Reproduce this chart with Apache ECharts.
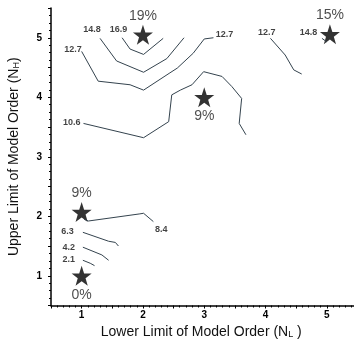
<!DOCTYPE html>
<html><head><meta charset="utf-8">
<script src="https://cdn.jsdelivr.net/npm/echarts@6/dist/echarts.min.js"></script>
<style>html,body{margin:0;padding:0;background:#fff}#c{width:354px;height:340px}</style>
</head><body><div id="c"></div>
<script>
// Contour lines [NL, NH]
const c106 = [[1.03,3.56],[2.01,3.32],[2.42,3.59],[2.47,4.04],[2.61,4.12],[2.80,4.21],[2.99,4.43],[3.29,4.35],[3.45,4.18],[3.61,3.98],[3.57,3.56],[3.68,3.37]];
const c127a = [[1.00,4.77],[1.27,4.27],[1.79,4.21],[2.01,4.12],[2.44,4.41],[2.56,4.49],[2.82,4.74],[3.00,4.98],[3.15,5.00]];
const c148a = [[1.30,4.99],[1.57,4.61],[2.01,4.42],[2.39,4.65],[2.67,5.00]];
const c169 = [[1.66,5.00],[1.79,4.81],[2.01,4.72],[2.33,4.99]];
const c127b = [[4.08,4.99],[4.32,4.71],[4.46,4.46],[4.59,4.39]];
const c148b = [[4.92,4.99],[5.00,4.93]];
const c84 = [[1.04,1.95],[1.11,1.92],[1.95,2.04],[2.01,2.05],[2.17,1.91]];
const c63 = [[1.02,1.73],[1.44,1.58],[1.55,1.56],[1.60,1.50]];
const c42 = [[1.02,1.48],[1.33,1.35],[1.44,1.26]];
const c21 = [[1.02,1.26],[1.14,1.21],[1.21,1.17]];
const contours = [c106, c127a, c148a, c169, c127b, c148b, c84, c63, c42, c21];
// Contour labels [x, y, text]
const contourLabels = [[0.86,4.81,'12.7'],[1.17,5.13,'14.8'],[1.60,5.13,'16.9'],[3.33,5.05,'12.7'],
  [4.02,5.09,'12.7'],[4.70,5.08,'14.8'],[0.84,3.57,'10.6'],[2.30,1.77,'8.4'],
  [0.77,1.74,'6.3'],[0.79,1.48,'4.2'],[0.79,1.28,'2.1']];
// Stars [NL, NH, percentage]
const stars = [[1,1,'0%'],[1,2.07,'9%'],[2,5.05,'19%'],[3,4,'9%'],[5.05,5.06,'15%']];
const xTicks = [1,2,3,4,5];
const yTicks = [1,2,3,4,5];

const starPath = 'path://M50,0 L61.8,35.1 L98.1,35.1 L68.8,56.7 L79.4,91 L50,70 L20.6,91 L31.2,56.7 L1.9,35.1 L38.2,35.1 Z';
const font = 'Liberation Sans, Arial, sans-serif';
const chart = echarts.init(document.getElementById('c'));
const series = contours.map(d => ({
  type: 'line', data: d, symbol: 'none', silent: true,
  lineStyle: {color: '#34434e', width: 1}
}));
series.push({
  type: 'scatter', symbolSize: 0, silent: true,
  data: contourLabels.map(r => ({value: [r[0], r[1]], name: r[2]})),
  label: {show: true, position: 'inside', formatter: p => p.name, color: '#111', fontSize: 9, fontWeight: 'bold', fontFamily: font}
});
series.push({
  type: 'scatter', symbol: starPath, symbolSize: 20, silent: true,
  itemStyle: {color: '#000'},
  data: stars.map((r, i) => ({value: [r[0], r[1]], name: r[2],
    label: {position: (i === 0 || i === 3) ? 'bottom' : 'top', distance: 2}})),
  label: {show: true, formatter: p => p.name, color: '#222', fontSize: 14, fontFamily: font}
});
const fmt = v => (xTicks.indexOf(v) >= 0 ? String(v) : '');
const fmtY = v => (yTicks.indexOf(v) >= 0 ? String(v) : '');
chart.setOption({
  animation: false,
  backgroundColor: '#fff',
  grid: {left: 51, right: -3.5, top: 8, bottom: 34.5, containLabel: false, outerBoundsMode: 'none'},
  xAxis: {
    type: 'value', min: 0.5, max: 5.5, interval: 0.5,
    name: 'Lower Limit of Model Order (N{s|L} )', nameLocation: 'middle', nameGap: 18,
    nameTextStyle: {fontSize: 14, color: '#111', fontFamily: font, padding: [0, 0, 0, -6],
      rich: {s: {fontSize: 9, verticalAlign: 'bottom', padding: [5, 0, 0, 0], color: '#111', fontFamily: font}}},
    axisLine: {show: true, onZero: false, lineStyle: {color: '#000', width: 1.5}},
    axisTick: {show: true, length: 3, lineStyle: {color: '#000', width: 1}},
    minorTick: {show: true, splitNumber: 5, length: 2, lineStyle: {color: '#000', width: 1}},
    axisLabel: {formatter: fmt, color: '#000', fontSize: 10, fontWeight: 'bold', fontFamily: font, margin: 5},
    splitLine: {show: false}
  },
  yAxis: {
    type: 'value', min: 0.5, max: 5.5, interval: 0.5,
    name: 'Upper Limit of Model Order (N{s|H})', nameLocation: 'middle', nameGap: 30,
    nameTextStyle: {fontSize: 14, color: '#111', fontFamily: font,
      rich: {s: {fontSize: 9, verticalAlign: 'bottom', padding: [5, 0, 0, 0], color: '#111', fontFamily: font}}},
    axisLine: {show: true, onZero: false, lineStyle: {color: '#000', width: 1.5}},
    axisTick: {show: true, length: 3, lineStyle: {color: '#000', width: 1}},
    minorTick: {show: true, splitNumber: 4, length: 2, lineStyle: {color: '#000', width: 1}},
    axisLabel: {formatter: fmtY, color: '#000', fontSize: 10, fontWeight: 'bold', fontFamily: font, margin: 9},
    splitLine: {show: false}
  },
  series: series
});
</script></body></html>
